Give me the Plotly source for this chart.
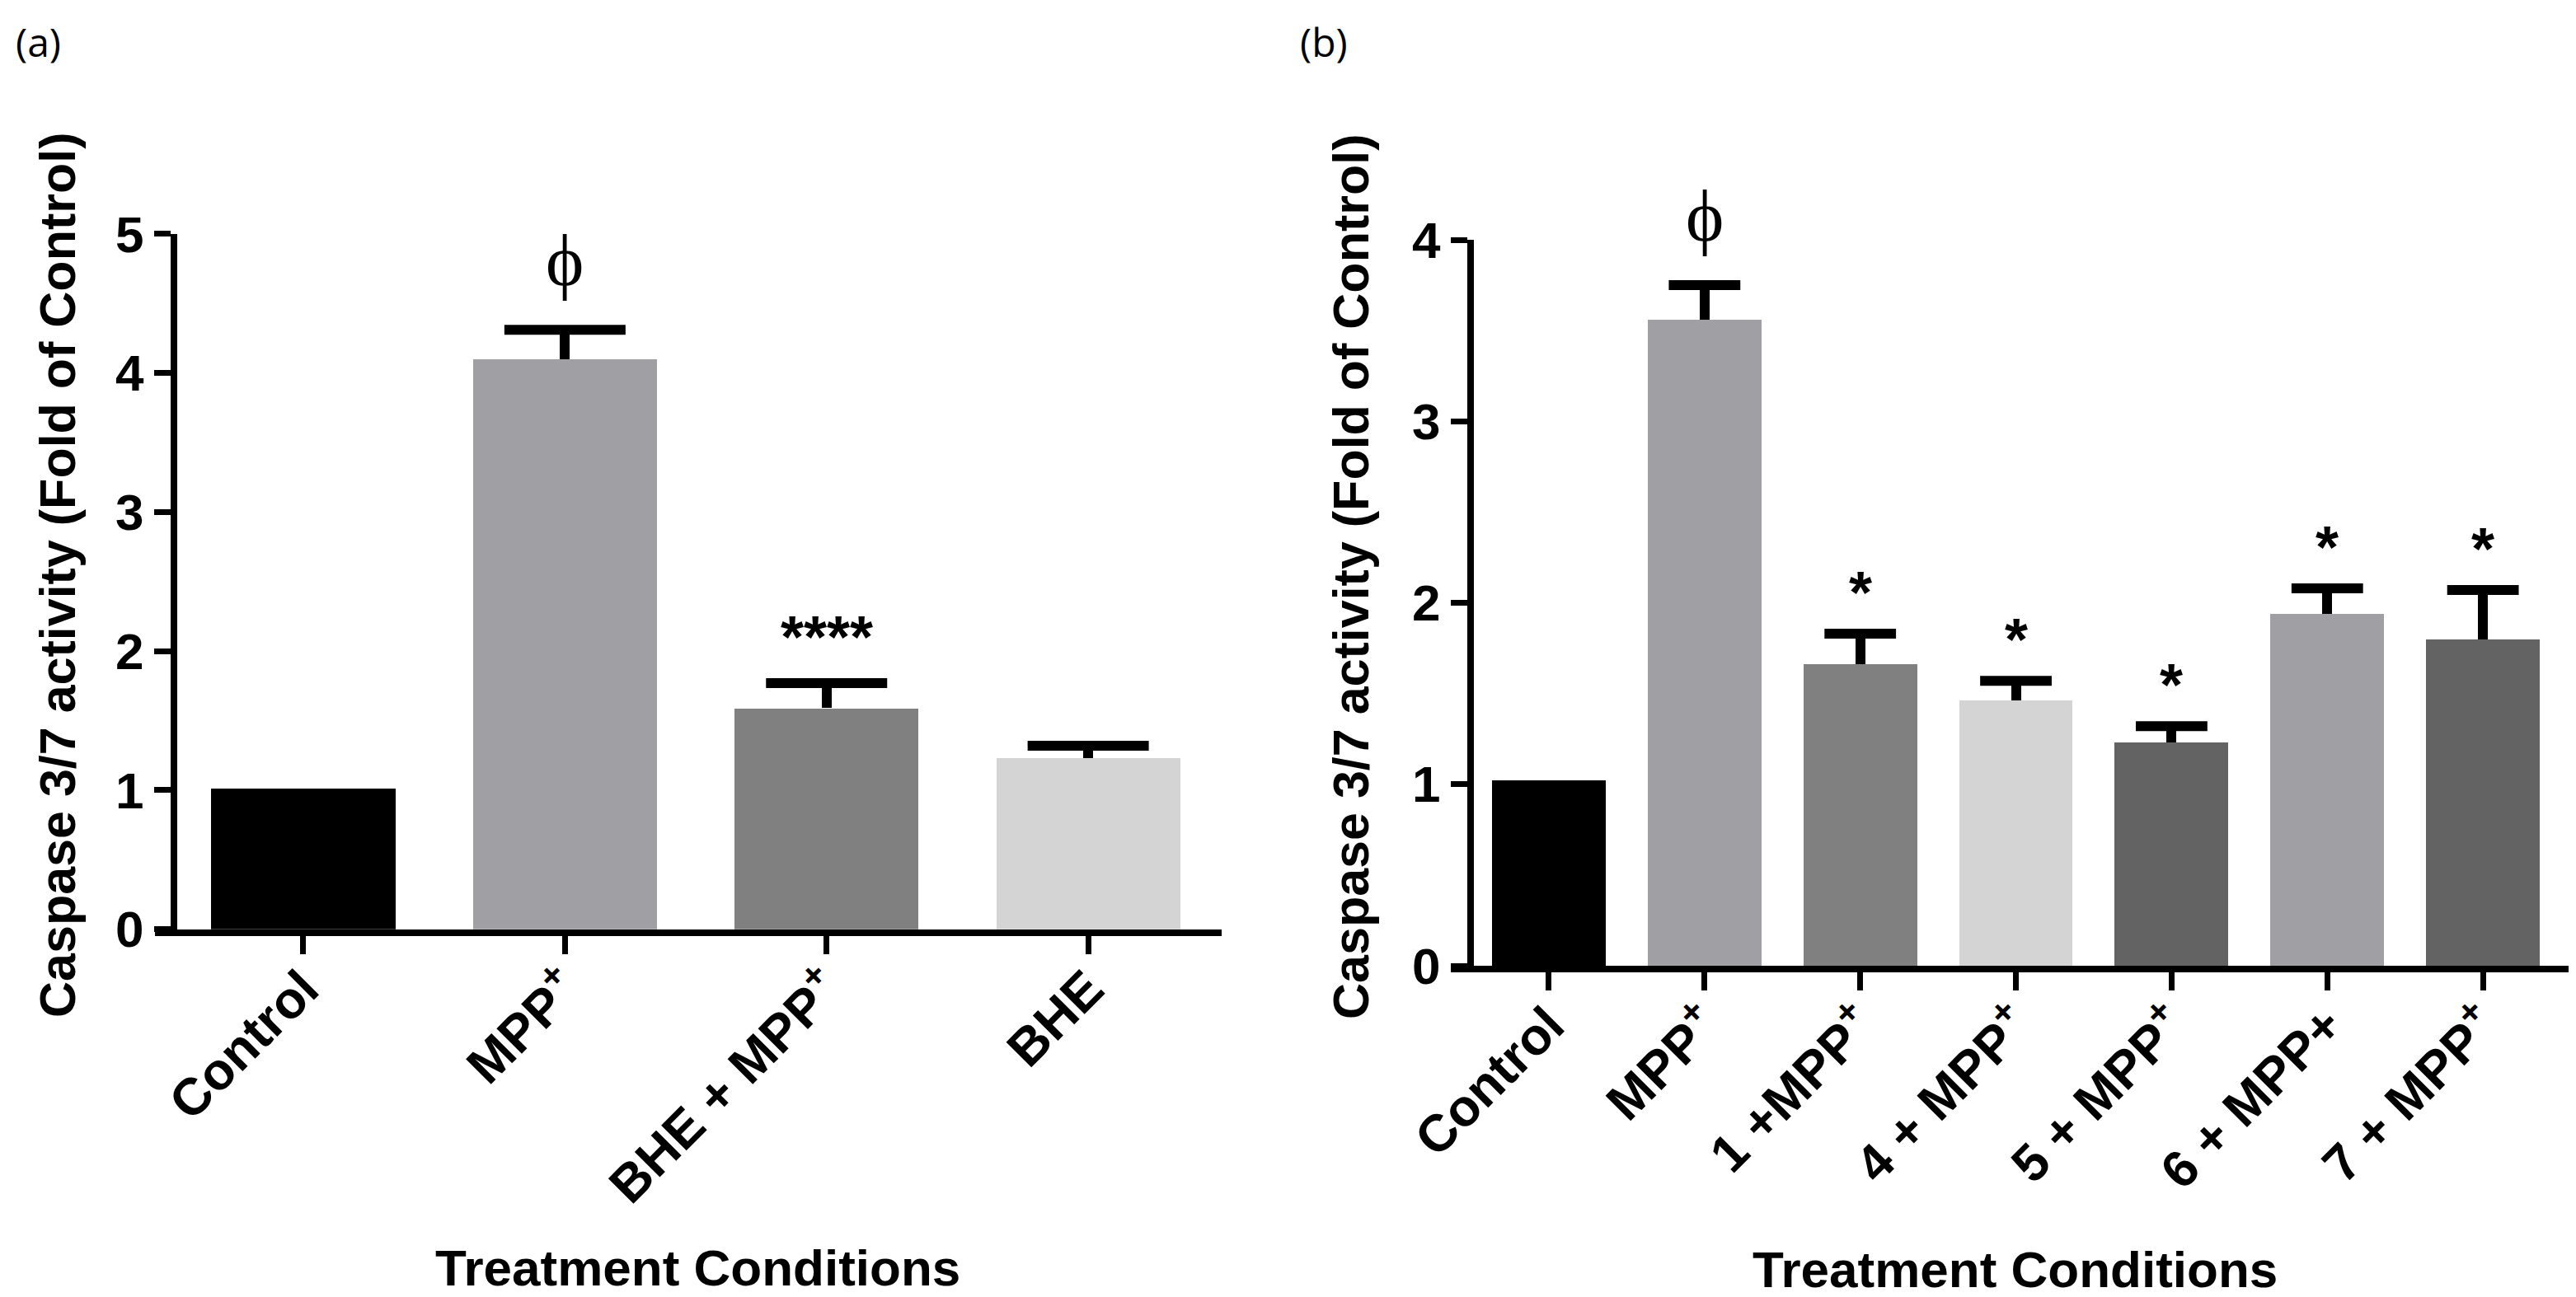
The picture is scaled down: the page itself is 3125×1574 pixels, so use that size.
import plotly.graph_objects as go

# ---------------- data ----------------
cats_a = ["Control", "MPP<sup>+</sup>", "BHE + MPP<sup>+</sup>", "BHE"]
vals_a = [1.01, 4.10, 1.59, 1.23]
err_a = [None, 0.21, 0.18, 0.09]
colors_a = ["#000000", "#a0a0a4", "#808080", "#d4d4d4"]
sig_a = ["", "ϕ", "****", ""]

cats_b = ["Control", "MPP<sup>+</sup>", "1 +MPP<sup>+</sup>", "4 + MPP<sup>+</sup>",
          "5 + MPP<sup>+</sup>", "6 + MPP+", "7 + MPP<sup>+</sup>"]
vals_b = [1.02, 3.56, 1.66, 1.46, 1.23, 1.94, 1.80]
err_b = [None, 0.19, 0.17, 0.11, 0.09, 0.14, 0.27]
colors_b = ["#000000", "#a0a0a4", "#808080", "#d4d4d4", "#636363", "#a0a0a4", "#636363"]
sig_b = ["", "ϕ", "*", "*", "*", "*", "*"]

yticks_a = [0, 1, 2, 3, 4, 5]
yticks_b = [0, 1, 2, 3, 4]

y_title = "Caspase 3/7 activity (Fold of Control)"
x_title = "Treatment Conditions"

# ---------------- figure ----------------
W, H = 3125, 1574
BOLD = "Liberation Sans, Arial, sans-serif"

fig = go.Figure()


def add_panel(cats, vals, errs, colors, xa, ya, bar_w, cap_px):
    pos = list(range(len(cats)))
    e = [v if v is not None else 0 for v in errs]
    fig.add_trace(go.Bar(
        x=pos, y=vals, width=bar_w,
        marker=dict(color=colors, line=dict(width=0)),
        error_y=dict(type="data", array=e, symmetric=False,
                     arrayminus=[0] * len(e), visible=True,
                     color="#000000", thickness=12, width=0),
        xaxis=xa, yaxis=ya, showlegend=False, cliponaxis=False,
        hoverinfo="skip",
    ))
    tops = [v + er if er is not None else None for v, er in zip(vals, errs)]
    fig.add_trace(go.Scatter(
        x=pos, y=tops, mode="markers",
        marker=dict(symbol="line-ew", size=cap_px, color="#000000",
                    line=dict(width=12, color="#000000")),
        xaxis=xa, yaxis=ya, showlegend=False, cliponaxis=False,
        hoverinfo="skip",
    ))
    return pos


pos_a = add_panel(cats_a, vals_a, err_a, colors_a, "x", "y", 0.703, 105)
pos_b = add_panel(cats_b, vals_b, err_b, colors_b, "x2", "y2", 0.73, 62)

axis_common = dict(showgrid=False, zeroline=False, showline=True,
                   linecolor="#000000", linewidth=8, ticks="outside",
                   tickcolor="#000000", tickwidth=7, mirror=False,
                   automargin=False)
xfont = dict(family=BOLD, size=63, color="#000000", weight="bold")
yfont = dict(family=BOLD, size=62, color="#000000", weight="bold")

fig.update_layout(
    width=W, height=H,
    margin=dict(l=0, r=0, t=0, b=0, autoexpand=False),
    paper_bgcolor="white", plot_bgcolor="white",
    bargap=0,
    xaxis=dict(domain=[180 / W, 1474 / W], range=[-0.567, 3.51],
               tickvals=pos_a, ticktext=cats_a, tickangle=-45, ticklen=22,
               ticklabelstandoff=-20,
               tickfont=xfont, anchor="y", **axis_common),
    yaxis=dict(domain=[1 - 1119.7 / H, 1 - 275.8 / H], range=[0, 5],
               tickvals=yticks_a, ticklen=20, tickfont=yfont,
               anchor="free", position=203 / W, **axis_common),
    xaxis2=dict(domain=[1752 / W, 3108 / W], range=[-0.63, 6.55],
                tickvals=pos_b, ticktext=cats_b, tickangle=-45, ticklen=22,
                ticklabelstandoff=-20,
                tickfont=xfont, anchor="y2", **axis_common),
    yaxis2=dict(domain=[1 - 1164 / H, 1 - 283 / H], range=[0, 4],
                tickvals=yticks_b, ticklen=20, tickfont=yfont,
                anchor="free", position=1776 / W, **axis_common),
)

annotations = []


def add_sig(labels, vals, errs, xref, yref):
    for i, (lab, v, e) in enumerate(zip(labels, vals, errs)):
        if not lab:
            continue
        top = v + (e or 0)
        if lab == "ϕ":
            font = dict(family="Liberation Serif, DejaVu Serif, serif", size=88, color="#000000")
            shift = 84
        else:
            font = dict(family="Liberation Sans, Arial, sans-serif", size=72,
                        color="#000000", weight="bold")
            shift = 56 if lab == "****" else 50
        annotations.append(dict(x=i, y=top, xref=xref, yref=yref, text=lab,
                                showarrow=False, yanchor="middle", xanchor="center",
                                yshift=shift, font=font))


add_sig(sig_a, vals_a, err_a, "x", "y")
add_sig(sig_b, vals_b, err_b, "x2", "y2")

# axis titles
for xc, yc in [(62, 690), (1631, 692)]:
    annotations.append(dict(x=xc / W, y=1 - yc / H, xref="paper", yref="paper",
                            text=y_title, textangle=-90, showarrow=False,
                            xanchor="center", yanchor="middle",
                            font=dict(family=BOLD, size=61, color="#000000", weight="bold")))
for xc, yc in [(838, 1530), (2436, 1532)]:
    annotations.append(dict(x=xc / W, y=1 - yc / H, xref="paper", yref="paper",
                            text=x_title, showarrow=False,
                            xanchor="center", yanchor="middle",
                            font=dict(family=BOLD, size=62, color="#000000", weight="bold")))

# panel letters
for xc, lab in [(38, "(a)"), (1598, "(b)")]:
    annotations.append(dict(x=xc / W, y=1 - 42 / H, xref="paper", yref="paper",
                            text=lab, showarrow=False, xanchor="center", yanchor="middle",
                            font=dict(family="Open Sans, Noto Sans, sans-serif", size=48,
                                      color="#000000")))

fig.update_layout(annotations=annotations)

fig.write_html("out.html")
